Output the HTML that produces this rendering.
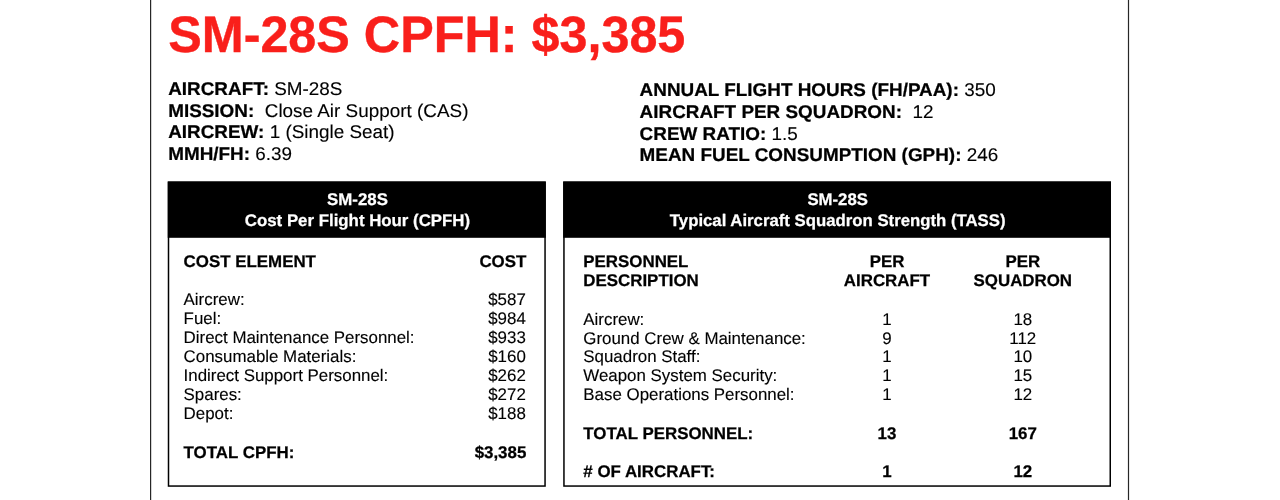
<!DOCTYPE html>
<html><head><meta charset="utf-8"><title>SM-28S CPFH</title>
<style>
html,body{margin:0;padding:0;background:#fff;}
body{width:1280px;height:500px;position:relative;overflow:hidden;font-family:"Liberation Sans",Arial,Helvetica,sans-serif;color:#000;text-rendering:geometricPrecision;}
.vl{position:absolute;top:0;height:500px;width:1.3px;background:#111;}
.t{position:absolute;white-space:pre;line-height:1;-webkit-text-stroke:0.12px currentColor;}
.b,.hd .t{-webkit-text-stroke:0.25px currentColor;}
.b{font-weight:bold;}
#title{font-weight:bold;}
.box{position:absolute;box-sizing:border-box;border:1.4px solid #000;}
.hd{position:absolute;background:#000;}
.hd .t{color:#fff;font-weight:bold;text-align:center;left:1.4px;right:0;}
.c{text-align:center;transform:translateX(-50%);}
.rt{text-align:right;transform:translateX(-100%);}
</style></head><body>
<svg width="1280" height="500" viewBox="0 0 1280 500" style="position:absolute;left:0;top:0"><rect x="168.50" y="182.25" width="376.55" height="303.80" fill="none" stroke="#000" stroke-width="1.5"/><rect x="167.75" y="181.5" width="378.05" height="56.3" fill="#000"/><rect x="563.95" y="182.25" width="546.30" height="303.80" fill="none" stroke="#000" stroke-width="1.5"/><rect x="563.2" y="181.5" width="547.80" height="56.3" fill="#000"/><rect x="150.0" y="0" width="1.2" height="500" fill="#262626"/><rect x="1127.9" y="0" width="1.2" height="500" fill="#262626"/></svg>
<div id="title" class="t" style="left:168.2px;top:9.4px;font-size:50.3px;color:#f91f1b;-webkit-text-stroke:0.4px #f91f1b;transform:scaleY(1.02);transform-origin:0 0">SM-28S CPFH: $3,385</div>
<div class="t" style="font-size:18.9px;transform:scaleY(0.975);transform-origin:0 0;left:168.2px;top:81px"><span class="b">AIRCRAFT:</span> SM-28S</div>
<div class="t" style="font-size:18.9px;transform:scaleY(0.975);transform-origin:0 0;left:168.2px;top:103px"><span class="b">MISSION:</span>  Close Air Support (CAS)</div>
<div class="t" style="font-size:18.9px;transform:scaleY(0.975);transform-origin:0 0;left:168.2px;top:124px"><span class="b">AIRCREW:</span> 1 (Single Seat)</div>
<div class="t" style="font-size:18.9px;transform:scaleY(0.975);transform-origin:0 0;left:168.2px;top:146px"><span class="b">MMH/FH:</span> 6.39</div>
<div class="t" style="font-size:18.9px;transform:scaleY(0.975);transform-origin:0 0;left:639.6px;top:82px"><span class="b">ANNUAL FLIGHT HOURS (FH/PAA):</span> 350</div>
<div class="t" style="font-size:18.9px;transform:scaleY(0.975);transform-origin:0 0;left:639.6px;top:104px"><span class="b">AIRCRAFT PER SQUADRON:</span>  12</div>
<div class="t" style="font-size:18.9px;transform:scaleY(0.975);transform-origin:0 0;left:639.6px;top:126px"><span class="b">CREW RATIO:</span> 1.5</div>
<div class="t" style="font-size:18.9px;transform:scaleY(0.975);transform-origin:0 0;left:639.6px;top:147px"><span class="b">MEAN FUEL CONSUMPTION (GPH):</span> 246</div>
<div class="hd" style="left:167.75px;top:181.5px;width:378.05px;height:56.3px;background:none;font-size:16.83px"><div class="t" style="left:1.4px;top:10.6px">SM-28S</div><div class="t" style="left:1.4px;top:31.0px">Cost Per Flight Hour (CPFH)</div></div>
<div class="hd" style="left:563.2px;top:181.5px;width:547.80px;height:56.3px;background:none;font-size:16.75px"><div class="t" style="left:1.2px;top:10.6px">SM-28S</div><div class="t" style="left:1.2px;top:31.0px">Typical Aircraft Squadron Strength (TASS)</div></div>
<div class="t b" style="font-size:16.9px;left:183.6px;top:254.10px">COST ELEMENT</div>
<div class="t b rt" style="font-size:16.9px;left:526.3px;top:254.10px">COST</div>
<div class="t " style="font-size:16.9px;left:183.6px;top:292.10px">Aircrew:</div>
<div class="t rt" style="font-size:16.9px;left:525.8px;top:292.10px">$587</div>
<div class="t " style="font-size:16.9px;left:183.6px;top:311.10px">Fuel:</div>
<div class="t rt" style="font-size:16.9px;left:525.8px;top:311.10px">$984</div>
<div class="t " style="font-size:16.9px;left:183.6px;top:330.10px">Direct Maintenance Personnel:</div>
<div class="t rt" style="font-size:16.9px;left:525.8px;top:330.10px">$933</div>
<div class="t " style="font-size:16.9px;left:183.6px;top:349.10px">Consumable Materials:</div>
<div class="t rt" style="font-size:16.9px;left:525.8px;top:349.10px">$160</div>
<div class="t " style="font-size:16.9px;left:183.6px;top:368.10px">Indirect Support Personnel:</div>
<div class="t rt" style="font-size:16.9px;left:525.8px;top:368.10px">$262</div>
<div class="t " style="font-size:16.9px;left:183.6px;top:387.10px">Spares:</div>
<div class="t rt" style="font-size:16.9px;left:525.8px;top:387.10px">$272</div>
<div class="t " style="font-size:16.9px;left:183.6px;top:406.10px">Depot:</div>
<div class="t rt" style="font-size:16.9px;left:525.8px;top:406.10px">$188</div>
<div class="t b" style="font-size:16.9px;left:183.6px;top:445.10px">TOTAL CPFH:</div>
<div class="t b rt" style="font-size:16.9px;left:526.3px;top:445.10px">$3,385</div>
<div class="t b" style="font-size:16.9px;left:583.3px;top:254.10px">PERSONNEL</div>
<div class="t b" style="font-size:16.9px;left:583.3px;top:273.10px">DESCRIPTION</div>
<div class="t b c" style="font-size:16.9px;left:887px;top:254.10px">PER</div>
<div class="t b c" style="font-size:16.9px;left:887px;top:273.10px">AIRCRAFT</div>
<div class="t b c" style="font-size:16.9px;left:1022.8px;top:254.10px">PER</div>
<div class="t b c" style="font-size:16.9px;left:1022.8px;top:273.10px">SQUADRON</div>
<div class="t " style="font-size:16.9px;left:583.3px;top:312.10px">Aircrew:</div>
<div class="t c" style="font-size:16.9px;left:887px;top:312.10px">1</div>
<div class="t c" style="font-size:16.9px;left:1022.8px;top:312.10px">18</div>
<div class="t " style="font-size:16.9px;left:583.3px;top:331.10px">Ground Crew &amp; Maintenance:</div>
<div class="t c" style="font-size:16.9px;left:887px;top:331.10px">9</div>
<div class="t c" style="font-size:16.9px;left:1022.8px;top:331.10px">112</div>
<div class="t " style="font-size:16.9px;left:583.3px;top:349.10px">Squadron Staff:</div>
<div class="t c" style="font-size:16.9px;left:887px;top:349.10px">1</div>
<div class="t c" style="font-size:16.9px;left:1022.8px;top:349.10px">10</div>
<div class="t " style="font-size:16.9px;left:583.3px;top:368.10px">Weapon System Security:</div>
<div class="t c" style="font-size:16.9px;left:887px;top:368.10px">1</div>
<div class="t c" style="font-size:16.9px;left:1022.8px;top:368.10px">15</div>
<div class="t " style="font-size:16.9px;left:583.3px;top:387.10px">Base Operations Personnel:</div>
<div class="t c" style="font-size:16.9px;left:887px;top:387.10px">1</div>
<div class="t c" style="font-size:16.9px;left:1022.8px;top:387.10px">12</div>
<div class="t b" style="font-size:16.9px;left:583.3px;top:426.10px">TOTAL PERSONNEL:</div>
<div class="t b c" style="font-size:16.9px;left:887px;top:426.10px">13</div>
<div class="t b c" style="font-size:16.9px;left:1022.8px;top:426.10px">167</div>
<div class="t b" style="font-size:16.9px;left:583.3px;top:464.10px"># OF AIRCRAFT:</div>
<div class="t b c" style="font-size:16.9px;left:887px;top:464.10px">1</div>
<div class="t b c" style="font-size:16.9px;left:1022.8px;top:464.10px">12</div>
</body></html>
